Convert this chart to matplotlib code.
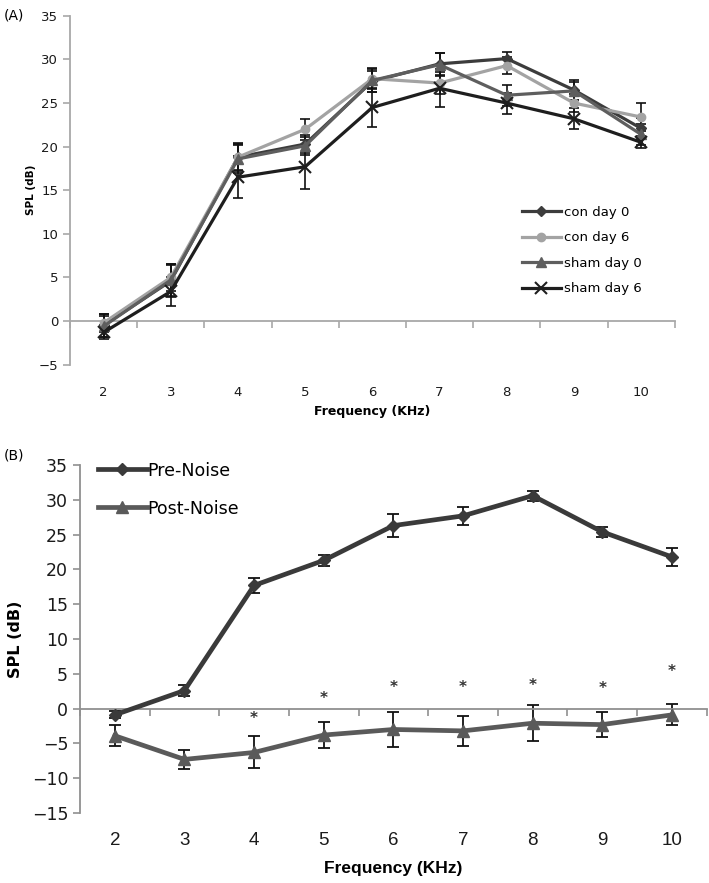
#SPL vs frequency, two panels (A: con/sham days, B: pre/post noise)

import numpy as np
import matplotlib
matplotlib.use('Agg')
import matplotlib.pyplot as plt
from matplotlib import font_manager

freq_labels = ['2', '3', '4', '5', '6', '7', '8', '9', '10']

# panel A
con_day0 = [-0.5, 4.6, 18.8, 20.3, 27.5, 29.5, 30.1, 26.5, 22.1]
con_day0_err = [1.3, 1.8, 1.6, 1.0, 1.2, 1.3, 0.8, 1.1, 1.2]
con_day6 = [-0.2, 5.0, 18.8, 22.0, 27.8, 27.3, 29.3, 25.0, 23.4]
con_day6_err = [1.0, 1.5, 1.5, 1.2, 1.2, 1.3, 1.0, 1.0, 1.6]
sham_day0 = [-0.6, 4.7, 18.6, 20.1, 27.6, 29.4, 25.9, 26.4, 21.4]
sham_day0_err = [1.2, 1.8, 1.6, 1.0, 1.3, 1.3, 1.2, 1.0, 1.2]
sham_day6 = [-1.3, 3.4, 16.5, 17.7, 24.5, 26.7, 25.0, 23.2, 20.5]
sham_day6_err = [0.8, 1.7, 2.4, 2.5, 2.2, 2.2, 1.2, 1.2, 0.7]

# panel B
pre_noise = [-0.9, 2.6, 17.7, 21.3, 26.3, 27.7, 30.6, 25.4, 21.8]
pre_noise_err = [0.5, 0.8, 1.1, 0.8, 1.6, 1.3, 0.7, 0.7, 1.3]
post_noise = [-3.9, -7.3, -6.3, -3.8, -3.0, -3.2, -2.1, -2.3, -0.9]
post_noise_err = [1.5, 1.4, 2.3, 1.9, 2.5, 2.2, 2.6, 1.8, 1.5]
star_idx = [2, 3, 4, 5, 6, 7, 8]
star_y = [-1.4, 1.4, 3.1, 3.1, 3.3, 2.9, 5.4]

names = set(f.name for f in font_manager.fontManager.ttflist)
narrow = 'Liberation Sans'
for cand in ['Liberation Sans Narrow', 'DejaVu Sans Condensed', 'Liberation Sans']:
    if cand in names:
        narrow = cand
        break

x = np.arange(1, len(freq_labels) + 1)

fig = plt.figure(figsize=(7.09, 8.83), dpi=100)


def setup_axis(ax, ylo, yhi, axcol, tick_fs, tick_font, xpad):
    ax.set_xlim(0.5, len(freq_labels) + 0.5)
    ax.set_ylim(ylo, yhi)
    ax.set_yticks(np.arange(ylo, yhi + 1, 5))
    ax.spines['right'].set_visible(False)
    ax.spines['bottom'].set_visible(False)
    ax.spines['top'].set_position(('data', 0))
    ax.spines['top'].set_color(axcol)
    ax.spines['left'].set_color(axcol)
    ax.spines['top'].set_linewidth(1.3)
    ax.spines['left'].set_linewidth(1.3)
    ax.set_xticks(x)
    ax.set_xticklabels(freq_labels, fontsize=tick_fs[0], family=tick_font[0], color='#1a1a1a')
    ax.set_xticks(np.arange(0.5, len(freq_labels) + 1, 1), minor=True)
    ax.tick_params(axis='x', which='major', bottom=True, top=False, length=0, pad=xpad)
    ax.tick_params(axis='x', which='minor', bottom=False, top=True, direction='in',
                   length=5, width=1.2, color=axcol)
    ax.tick_params(axis='y', which='major', length=5, width=1.2, color=axcol,
                   labelsize=tick_fs[1], labelcolor='#1a1a1a')
    for t in ax.get_yticklabels():
        t.set_family(tick_font[1])


# --- panel A ---
axA = fig.add_axes([0.0987, 0.587, 0.853, 0.395])
setup_axis(axA, -5, 35, '#a8a8a8', (9.5, 9.5), ('DejaVu Sans', 'DejaVu Sans'), 15)

seriesA = [
    (con_day0, con_day0_err, '#3c3c3c', 'D', 5, 'con day 0'),
    (con_day6, con_day6_err, '#a3a3a3', 'o', 6, 'con day 6'),
    (sham_day0, sham_day0_err, '#5e5e5e', '^', 7, 'sham day 0'),
    (sham_day6, sham_day6_err, '#1e1e1e', 'x', 9, 'sham day 6'),
]
for vals, err, col, mk, ms, lab in seriesA:
    axA.errorbar(x, vals, yerr=err, fmt='none', ecolor='#111111', elinewidth=1.2,
                 capsize=3.5, capthick=1.2, zorder=2)
    axA.plot(x, vals, color=col, marker=mk, markersize=ms, linewidth=2.3,
             markeredgewidth=1.5 if mk == 'x' else 1, label=lab, zorder=3)

axA.set_ylabel('SPL (dB)', fontsize=7.5, fontweight='bold', labelpad=2)
axA.set_xlabel('Frequency (KHz)', fontsize=9, fontweight='bold', labelpad=5)
axA.legend(loc='upper left', bbox_to_anchor=(0.727, 0.49), frameon=False, fontsize=9.5,
           handlelength=3.0, labelspacing=0.95, handletextpad=0.25)
fig.text(0.005, 0.982, '(A)', fontsize=10, va='center')

# --- panel B ---
axB = fig.add_axes([0.1128, 0.0793, 0.884, 0.394])
setup_axis(axB, -15, 35, '#909090', (13.5, 12.5), (narrow, 'DejaVu Sans'), 14)

axB.errorbar(x, pre_noise, yerr=pre_noise_err, fmt='none', ecolor='#111111', elinewidth=1.3,
             capsize=4, capthick=1.3, zorder=2)
axB.plot(x, pre_noise, color='#3a3a3a', marker='D', markersize=6, linewidth=3.4,
         label='Pre-Noise', zorder=3)
axB.errorbar(x, post_noise, yerr=post_noise_err, fmt='none', ecolor='#111111', elinewidth=1.3,
             capsize=4, capthick=1.3, zorder=2)
axB.plot(x, post_noise, color='#5a5a5a', marker='^', markersize=9, linewidth=3.4,
         label='Post-Noise', zorder=3)

for i, yv in zip(star_idx, star_y):
    axB.text(x[i], yv, '*', ha='center', va='center', fontsize=11, fontweight='bold',
             color='#333333')

axB.set_ylabel('SPL (dB)', fontsize=11.5, fontweight='bold', labelpad=6)
axB.set_xlabel('Frequency (KHz)', fontsize=12.5, fontweight='bold', family=narrow, labelpad=8)
axB.legend(loc='upper left', bbox_to_anchor=(0.004, 1.055), frameon=False, fontsize=12.5,
           handlelength=2.8, labelspacing=1.15, handletextpad=0.05)
fig.text(0.005, 0.484, '(B)', fontsize=10, va='center')

fig.savefig('out.png', dpi=100)
